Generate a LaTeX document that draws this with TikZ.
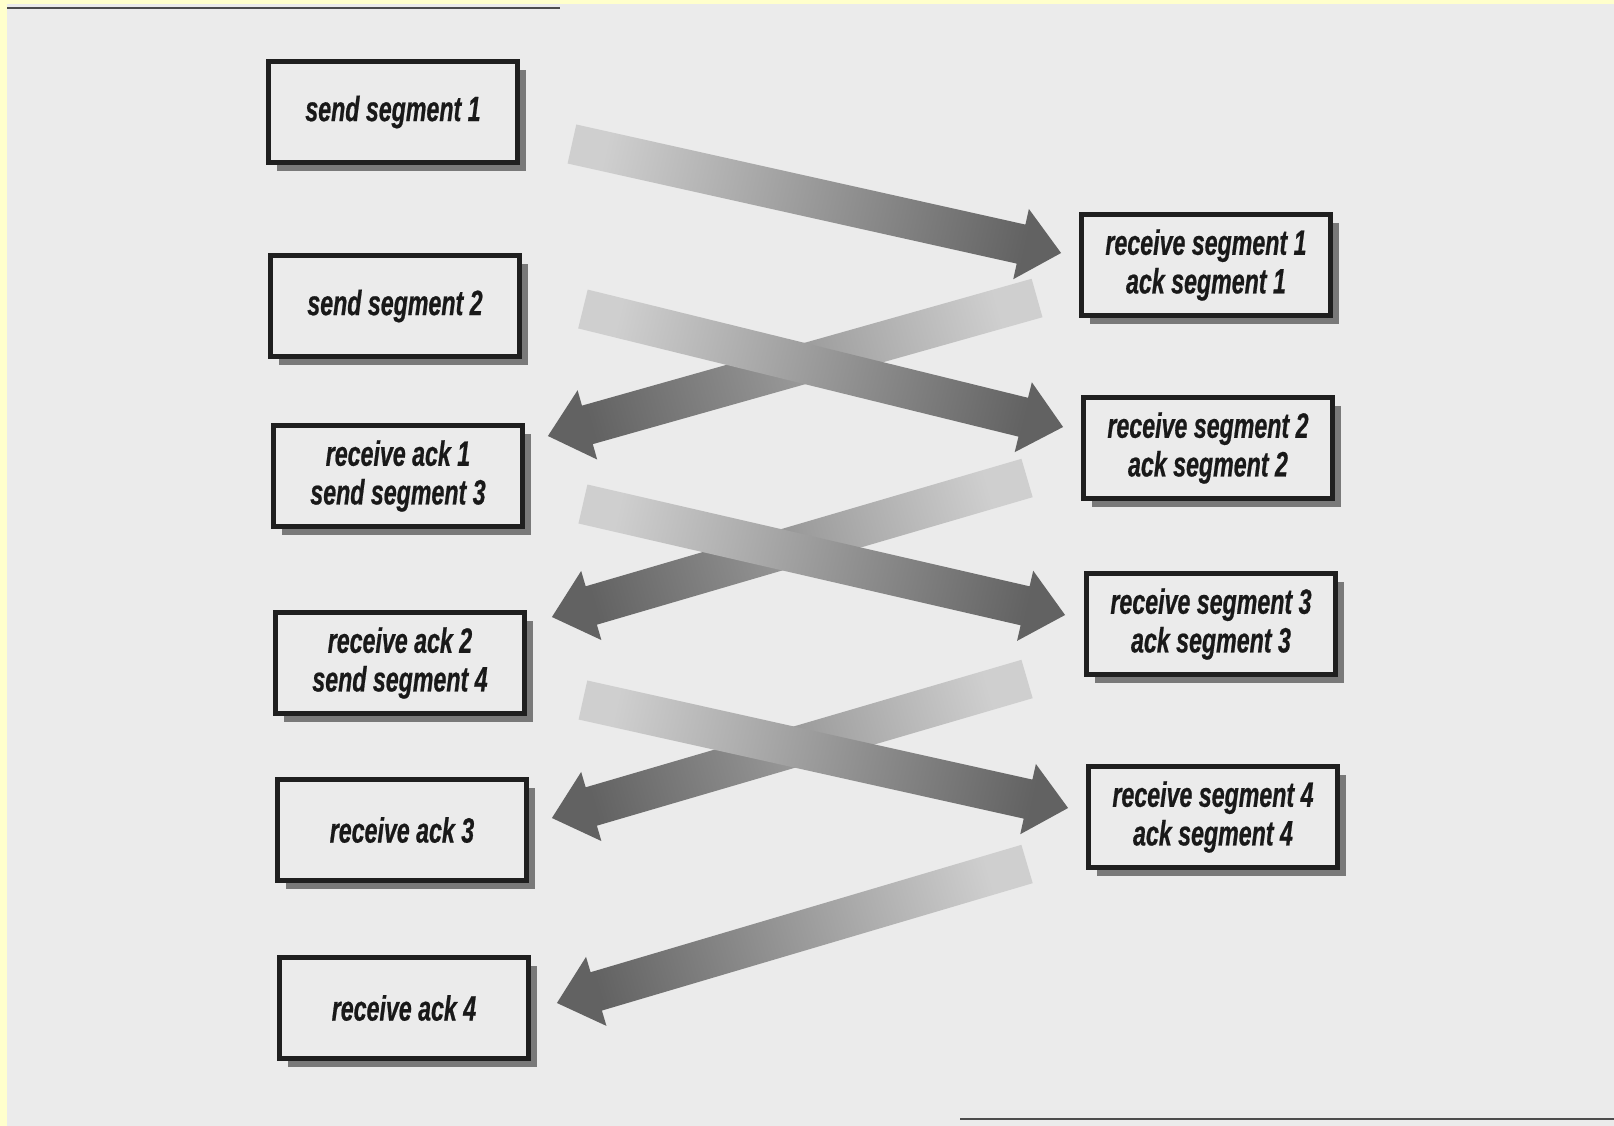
\documentclass[tikz,border=0pt]{standalone}
\usepackage{fontspec}
\newfontfamily\boxfont[FakeStretch=0.66,FakeBold=0.6]{Liberation Sans}
\usetikzlibrary{calc,shadows}
\definecolor{paper}{HTML}{EBEBEB}
\definecolor{scanedge}{HTML}{FFFFCC}
\definecolor{arrtail}{HTML}{CFCFCF}
\definecolor{arrmid}{HTML}{9A9A9A}
\definecolor{arrhead}{HTML}{626262}
\tikzset{
  box/.style={draw=black!88, line width=2.8pt, fill=paper, text=black!90,
    minimum width=4.98cm, minimum height=2.02cm, align=center,
    font=\boxfont\bfseries\itshape\fontsize{20}{22}\selectfont,
    drop shadow={shadow xshift=0.17cm, shadow yshift=-0.17cm, fill=black!60, opacity=0.85}},
}
% fat shaded arrow from tail coordinate #1 to tip coordinate #2
\def\aw{0.4cm}
\def\ah{0.72cm}
\def\ahl{0.82cm}
\newcommand\fatarrow[2]{%
  \pgfmathanglebetweenpoints{\pgfpointanchor{#1}{center}}{\pgfpointanchor{#2}{center}}%
  \pgfmathsetmacro\shang{\pgfmathresult+90}%
  \coordinate (hb) at ($(#2)!\ahl!(#1)$);
  \shade[left color=arrtail, middle color=arrmid, right color=arrhead, shading angle=\shang]
    ($(#1)!\aw!90:(#2)$) -- ($(hb)!\aw!-90:(#1)$) -- ($(hb)!\ah!-90:(#1)$) -- (#2)
    -- ($(hb)!\ah!90:(#1)$) -- ($(hb)!\aw!90:(#1)$) -- ($(#1)!\aw!-90:(#2)$) -- cycle;
}
\begin{document}
\begin{tikzpicture}[x=0.02cm, y=-0.02cm]
\useasboundingbox (0,0) rectangle (1614,1126);
\fill[paper] (0,0) rectangle (1614,1126);
\fill[scanedge] (0,0) rectangle (7,1126);
\fill[scanedge] (0,0) rectangle (1614,4);
\draw[line width=1.6pt, black!70] (7,8) -- (560,8);
\draw[line width=1.6pt, black!70] (960,1119) -- (1614,1119);

% sender side
\node[box] (S_1) at (393,112) {send segment 1};
\node[box] (S_2) at (395,306) {send segment 2};
\node[box] (S_3) at (398,476) {receive ack 1\\send segment 3};
\node[box] (S_4) at (400,663) {receive ack 2\\send segment 4};
\node[box] (S_5) at (402,830) {receive ack 3};
\node[box] (S_6) at (404,1008) {receive ack 4};
% receiver side
\node[box] (R_1) at (1206,265) {receive segment 1\\ack segment 1};
\node[box] (R_2) at (1208,448) {receive segment 2\\ack segment 2};
\node[box] (R_3) at (1211,624) {receive segment 3\\ack segment 3};
\node[box] (R_4) at (1213,817) {receive segment 4\\ack segment 4};

% arrow ends
\coordinate (a1t) at ($(S_1.east)+(52,32)$);
\coordinate (a1h) at ($(R_1.west)+(-18,-12)$);
\coordinate (a2t) at ($(S_2.east)+(61,3)$);
\coordinate (a2h) at ($(R_2.west)+(-18,-21)$);
\coordinate (a3t) at ($(R_1.west)+(-42,33)$);
\coordinate (a3h) at ($(S_3.east)+(23,-40)$);
\coordinate (a4t) at ($(S_3.east)+(58,28)$);
\coordinate (a4h) at ($(R_3.west)+(-19,-9)$);
\coordinate (a5t) at ($(R_2.west)+(-54,30)$);
\coordinate (a5h) at ($(S_4.east)+(25,-46)$);
\coordinate (a6t) at ($(S_4.east)+(56,37)$);
\coordinate (a6h) at ($(R_4.west)+(-18,-9)$);
\coordinate (a7t) at ($(R_3.west)+(-57,55)$);
\coordinate (a7h) at ($(S_5.east)+(23,-12)$);
\coordinate (a8t) at ($(R_4.west)+(-59,47)$);
\coordinate (a8h) at ($(S_6.east)+(26,-5)$);

\fatarrow{a1t}{a1h}
\fatarrow{a3t}{a3h}
\fatarrow{a2t}{a2h}
\fatarrow{a5t}{a5h}
\fatarrow{a4t}{a4h}
\fatarrow{a7t}{a7h}
\fatarrow{a6t}{a6h}
\fatarrow{a8t}{a8h}
\end{tikzpicture}
\end{document}
